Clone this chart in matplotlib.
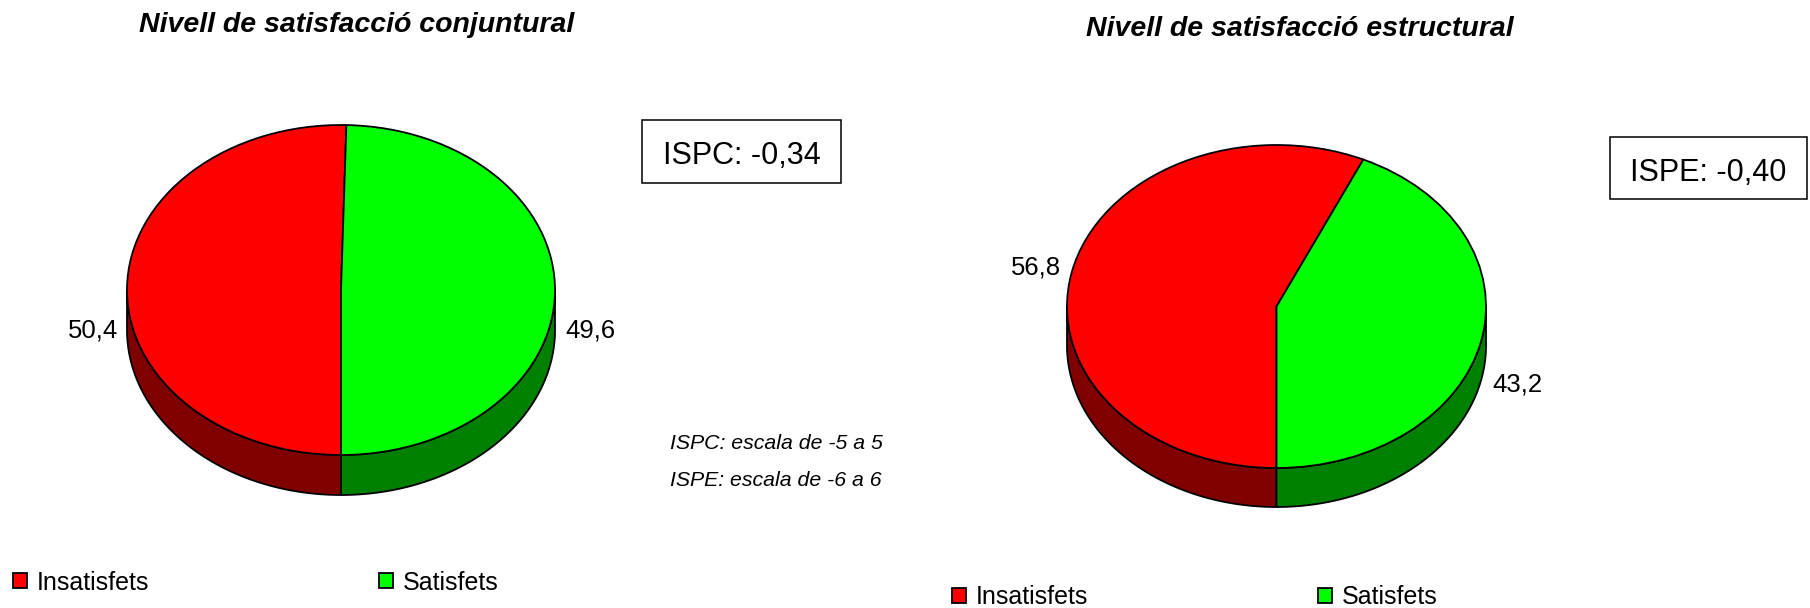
import numpy as np
import matplotlib
matplotlib.use('Agg')
import matplotlib.pyplot as plt
from matplotlib.patches import Polygon, Rectangle

plt.rcParams['font.family'] = ['Liberation Sans', 'DejaVu Sans']

## data
categories = ['Insatisfets', 'Satisfets']
conjuntural = [50.4, 49.6]
estructural = [56.8, 43.2]
value_labels_conj = ['50,4', '49,6']
value_labels_estr = ['56,8', '43,2']
titles = ['Nivell de satisfacció conjuntural', 'Nivell de satisfacció estructural']
index_labels = ['ISPC: -0,34', 'ISPE: -0,40']
scale_notes = ['ISPC: escala de -5 a 5', 'ISPE: escala de -6 a 6']

top_colors = ['#FF0000', '#00FF00']
side_colors = ['#800000', '#008000']

W, H = 1810, 608
fig = plt.figure(figsize=(W / 100, H / 100), dpi=100)


def fx(x):
    return x / W


def fy(y):
    return 1 - y / H


def pie3d(values, cx, cy, a, b, depth_px):
    ## axes sized so that radius 1 is a px wide and b px tall -> ellipse
    ax = fig.add_axes([fx(cx - 1.3 * a), fy(cy + 1.5 * b), 2.6 * a / W, 2.7 * b / H])
    d = depth_px / b
    # first slice ends at 6 o'clock
    start = 270 - 360 * values[0] / sum(values)
    wedges, _ = ax.pie(values, colors=top_colors, startangle=start,
                       counterclock=True,
                       wedgeprops=dict(edgecolor='black', linewidth=1.3))
    ## side of the pie (front half only)
    for i, w in enumerate(wedges):
        for shift in (0, -360, 360):
            lo = max(w.theta1 + shift, 180)
            hi = min(w.theta2 + shift, 360)
            if hi <= lo:
                continue
            t = np.radians(np.linspace(lo, hi, 120))
            top = np.column_stack([np.cos(t), np.sin(t)])
            bot = np.column_stack([np.cos(t), np.sin(t) - d])[::-1]
            ax.add_patch(Polygon(np.vstack([top, bot]), closed=True,
                                 facecolor=side_colors[i], edgecolor='black',
                                 linewidth=1.3, zorder=0.5))
    ax.set_aspect('auto')
    ax.set_xlim(-1.3, 1.3)
    ax.set_ylim(-1.5, 1.2)
    ax.axis('off')
    return ax, wedges


## left pie
ax1, w1 = pie3d(conjuntural, 341, 290, 214, 165, 40)
ax1.text(-1.042, -0.285, value_labels_conj[0], ha='right', va='baseline', fontsize=18.5)
ax1.text(1.047, -0.29, value_labels_conj[1], ha='left', va='baseline', fontsize=18.5)

## right pie
ax2, w2 = pie3d(estructural, 1276.5, 306.5, 209.5, 161.5, 39)
ax2.text(-1.029, 0.201, value_labels_estr[0], ha='right', va='baseline', fontsize=18.5)
ax2.text(1.029, -0.529, value_labels_estr[1], ha='left', va='baseline', fontsize=18.5)

## titles
fig.text(fx(357), fy(32), titles[0], ha='center', va='baseline',
         fontsize=20.5, fontweight='bold', fontstyle='italic')
fig.text(fx(1300), fy(36), titles[1], ha='center', va='baseline',
         fontsize=20.5, fontweight='bold', fontstyle='italic')

## index boxes
fig.add_artist(Rectangle((fx(642), fy(183)), 199 / W, 63 / H, transform=fig.transFigure,
                         facecolor='white', edgecolor='black', linewidth=1.1))
fig.text(fx(741.5), fy(164), index_labels[0], ha='center', va='baseline', fontsize=22)
fig.add_artist(Rectangle((fx(1610), fy(199)), 197 / W, 62 / H, transform=fig.transFigure,
                         facecolor='white', edgecolor='black', linewidth=1.1))
fig.text(fx(1708.5), fy(181), index_labels[1], ha='center', va='baseline', fontsize=22)

## scale notes
fig.text(fx(670), fy(449), scale_notes[0], ha='left', va='baseline', fontsize=15.3, fontstyle='italic')
fig.text(fx(670), fy(486), scale_notes[1], ha='left', va='baseline', fontsize=15.3, fontstyle='italic')

## legends
for wedges, (lx, ly) in [(w1, (13, 582.5)), (w2, (952, 597))]:
    fig.legend(wedges, categories, loc='center left', bbox_to_anchor=(fx(lx), fy(ly)),
               ncol=2, frameon=False, fontsize=18, borderpad=0, borderaxespad=0,
               handlelength=0.55, handleheight=0.55, handletextpad=0.4,
               columnspacing=9.2)

fig.savefig('out.png', dpi=100, facecolor='white')
